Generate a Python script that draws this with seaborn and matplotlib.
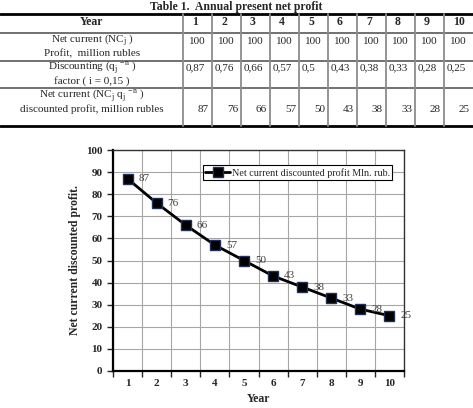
import seaborn as sns
import matplotlib.pyplot as plt
from matplotlib.lines import Line2D
from matplotlib.ticker import MultipleLocator

# table data
years = [1, 2, 3, 4, 5, 6, 7, 8, 9, 10]
net_current = ["100"] * 10
disc_factor = ["0,87", "0,76", "0,66", "0,57", "0,5", "0,43", "0,38", "0,33", "0,28", "0,25"]
disc_profit = [87, 76, 66, 57, 50, 43, 38, 33, 28, 25]
row_labels = [
    ("Net current (NC$_\\mathregular{j}$ )", "Profit,  million rubles"),
    ("Discounting (q$_\\mathregular{j}$ $^\\mathregular{-n}$ )", "factor ( i = 0,15 )"),
    ("Net current (NC$_\\mathregular{j}$ q$_\\mathregular{j}$ $^\\mathregular{-n}$ )",
     "discounted profit, million rubles"),
]
legend_label = "Net current discounted profit Mln. rub."

sns.set_style("white")
plt.rcParams['font.family'] = ['Liberation Serif', 'DejaVu Serif']
plt.rcParams['mathtext.fontset'] = 'custom'
plt.rcParams['mathtext.rm'] = 'Liberation Serif'

W, H = 473, 408
fig = plt.figure(figsize=(W / 100, H / 100), dpi=100)

def fx(px):
    return px / W

def fy(py):
    return 1 - py / H

def hline(py, lw=1.0, color="0.35"):
    fig.add_artist(Line2D([0, 1], [fy(py), fy(py)], color=color, lw=lw, transform=fig.transFigure))

def vline(px, y0, y1, lw=1.3, color="0.55"):
    fig.add_artist(Line2D([fx(px), fx(px)], [fy(y0), fy(y1)], color=color, lw=lw, transform=fig.transFigure))

# ---- table ----
fig.text(fx(236), fy(7), "Table 1.  Annual present net profit", ha="center", va="center",
         fontsize=8.5, fontweight="bold")
hline(14, lw=2.0, color="black")
hline(33, lw=1.2)
hline(61, lw=1.2)
hline(88, lw=1.2)
hline(126, lw=2.0, color="black")

col_left = [183 + 29.0 * i for i in range(10)]
for c in col_left:
    vline(c, 14, 126)

fig.text(fx(92), fy(22), "Year", ha="center", va="center", fontsize=8.5, fontweight="bold")
for c, y in zip(col_left, years):
    fig.text(fx(c + 9), fy(22), str(y), ha="left", va="center", fontsize=8.5, fontweight="bold")

row_y = [(41, 54), (68, 81), (96, 109)]
for (l1, l2), (y1, y2) in zip(row_labels, row_y):
    fig.text(fx(92), fy(y1), l1, ha="center", va="center", fontsize=8)
    fig.text(fx(92), fy(y2), l2, ha="center", va="center", fontsize=8)

for c, v in zip(col_left, net_current):
    fig.text(fx(c + 6), fy(41), v, ha="left", va="center", fontsize=8)
for c, v in zip(col_left, disc_factor):
    fig.text(fx(c + 3), fy(68), v, ha="left", va="center", fontsize=8)
for c, v in zip(col_left, disc_profit):
    fig.text(fx(c + 26), fy(109), str(v), ha="right", va="center", fontsize=8)

# ---- chart ----
ax = fig.add_axes([fx(113), fy(371), fx(404) - fx(113), fy(150) - fy(371)])
sns.lineplot(x=years, y=disc_profit, ax=ax, color="black", lw=2, marker="s",
             markersize=7, markerfacecolor="black", markeredgecolor="#1f2f5a",
             markeredgewidth=1, label=legend_label)

for x, y in zip(years, disc_profit):
    ax.text(x + 0.38, y, str(y), ha="left", va="center", fontsize=8, color="0.25")

ax.set_xlim(0.5, 10.5)
ax.set_ylim(0, 100)
ax.set_xticks(years)
ax.xaxis.set_minor_locator(MultipleLocator(1, offset=0.5))
ax.yaxis.set_major_locator(MultipleLocator(10))
ax.tick_params(axis="x", which="major", length=0, pad=6, labelsize=8)
ax.tick_params(axis="x", which="minor", length=4, width=1, direction="out", bottom=True)
ax.tick_params(axis="y", which="major", length=4, width=1, direction="out", left=True, labelsize=8)
for lab in ax.get_xticklabels() + ax.get_yticklabels():
    lab.set_fontweight("bold")

ax.grid(False)
ax.grid(True, axis="x", which="minor", color="0.65", lw=0.8)
ax.grid(True, axis="y", which="major", color="0.65", lw=0.8)
ax.set_axisbelow(True)

for s in ["top", "right"]:
    ax.spines[s].set_color("0.2")
    ax.spines[s].set_linewidth(1)
for s in ["left", "bottom"]:
    ax.spines[s].set_color("black")
    ax.spines[s].set_linewidth(1.6)

ax.set_xlabel("Year", fontsize=8.5, fontweight="bold", labelpad=3)
ax.set_ylabel("Net current discounted profit.", fontsize=8.5, fontweight="bold", labelpad=4)

leg = ax.legend(loc="upper right", bbox_to_anchor=(0.96, 0.93), fontsize=7.3,
                frameon=True, fancybox=False, framealpha=1, edgecolor="black",
                borderpad=0.25, handlelength=2.4, handletextpad=0.2, borderaxespad=0)
leg.get_frame().set_linewidth(0.8)

fig.savefig("out.png", dpi=100)
